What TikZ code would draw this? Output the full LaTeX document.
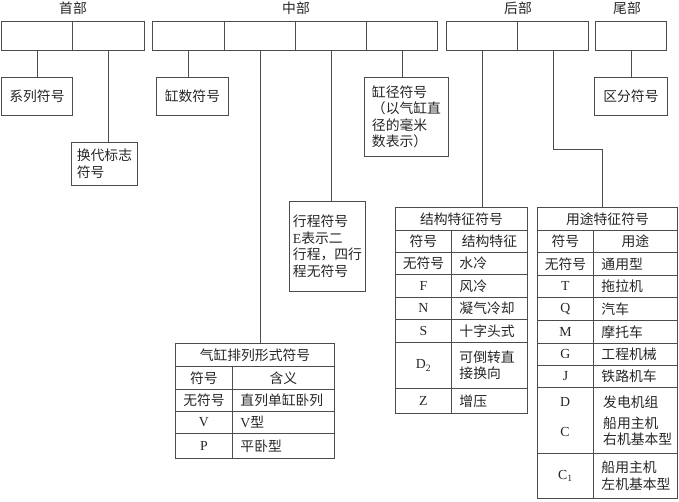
\documentclass[tikz,border=0pt]{standalone}
\usepackage{fontspec}
\setmainfont{Noto Sans CJK SC}
\newfontfamily\lat{Liberation Serif}
\begin{document}
\begin{tikzpicture}
[x=1pt,y=-1pt,%
  every node/.style={inner sep=0pt,text=black!85},%
  cell/.style={draw=black!70,line width=0.9pt,anchor=north west},%
  bar/.style={cell,minimum width=#1,minimum height=29pt},%
  rcell/.style={cell,inner xsep=8pt,text width=#1,align=left},%
  con/.style={draw=black!70,line width=0.9pt}]
\fontsize{13.8}{16.5}\selectfont
\useasboundingbox (0,0) rectangle (679,501);
% titles
\node (shou) at (73,8) {首部};
\node (zhong) at (296,8) {中部};
\node (hou) at (518,8) {后部};
\node (wei) at (627,8) {尾部};
% top bars
\node[bar=71pt] (s1) at (1,21) {};
\node[bar=72pt] (s2) at (72,21) {};
\node[bar=72pt] (m1) at (152,21) {};
\node[bar=71pt] (m2) at (224,21) {};
\node[bar=71pt] (m3) at (295,21) {};
\node[bar=71pt] (m4) at (366,21) {};
\node[bar=71pt] (h1) at (446,21) {};
\node[bar=71pt] (h2) at (517,21) {};
\node[bar=71pt] (w1) at (595,21) {};
% boxes
\node[cell,minimum width=71pt,minimum height=38pt] (xilie) at (1,77) {系列符号};
\node[cell,minimum width=66pt,minimum height=43pt,align=left] (huandai) at (71,142) {换代标志\\符号};
\node[cell,minimum width=72pt,minimum height=38pt] (gangshu) at (156,77) {缸数符号};
\node[cell,minimum width=84pt,minimum height=79pt,align=left] (gangjing) at (364,77)
  {缸径符号\\（以气缸直\\径的毫米\\数表示）};
\node[cell,minimum width=76pt,minimum height=90pt,align=left] (xingcheng) at (289,201)
  {行程符号\\{\lat E}表示二\\行程，四行\\程无符号};
\node[cell,minimum width=73pt,minimum height=38pt] (qufen) at (594,77) {区分符号};
% table: 结构特征
\node[cell,minimum width=132pt,minimum height=23pt] (jg-t) at (395,207) {结构特征符号};
\node[cell,minimum width=56pt,minimum height=22pt] (jg-a0) at (395,230) {符号};
\node[cell,minimum width=76pt,minimum height=22pt] (jg-b0) at (451,230) {结构特征};
\foreach \y/\h/\a/\b [count=\i] in {252/22/无符号/水冷, 274/23/{\lat F}/风冷,
    297/22/{\lat N}/凝气冷却, 319/23/{\lat S}/十字头式,
    342/46/{\lat D\textsubscript{2}}/可倒转直\\接换向, 388/25/{\lat Z}/增压}
{
  \node[cell,minimum width=56pt,minimum height=\h] (jg-a\i) at (395,\y) {\a};
  \node[rcell=60pt,minimum height=\h] (jg-b\i) at (451,\y) {\b};
}
% table: 用途特征
\node[cell,minimum width=140pt,minimum height=23pt] (yt-t) at (537,207) {用途特征符号};
\node[cell,minimum width=56pt,minimum height=22pt] (yt-a0) at (537,230) {符号};
\node[cell,minimum width=84pt,minimum height=22pt] (yt-b0) at (593,230) {用途};
\foreach \y/\h/\a/\b [count=\i] in {252/23/无符号/通用型, 275/22/{\lat T}/拖拉机,
    297/23/{\lat Q}/汽车, 320/23/{\lat M}/摩托车, 343/22/{\lat G}/工程机械,
    365/22/{\lat J}/铁路机车, 387/66//, 453/45/{\lat C\textsubscript{1}}/船用主机\\左机基本型}
{
  \node[cell,minimum width=56pt,minimum height=\h] (yt-a\i) at (537,\y) {\a};
  \node[rcell=68pt,minimum height=\h] (yt-b\i) at (593,\y) {\b};
}
\node (yt-d) at (565,402) {\lat D};
\node (yt-c) at (565,432) {\lat C};
\node[anchor=west] (yt-fd) at (603,402) {发电机组};
\node[anchor=west,align=left] (yt-cb) at (603,431) {船用主机\\右机基本型};
% table: 气缸排列
\node[cell,minimum width=159pt,minimum height=23pt] (pl-t) at (175,343) {气缸排列形式符号};
\node[cell,minimum width=57pt,minimum height=23pt] (pl-a0) at (175,366) {符号};
\node[cell,minimum width=102pt,minimum height=23pt] (pl-b0) at (232,366) {含义};
\foreach \y/\h/\a/\b [count=\i] in {389/22/无符号/直列单缸卧列,
    411/22/{\lat V}/{\lat V}型, 433/25/{\lat P}/平卧型}
{
  \node[cell,minimum width=57pt,minimum height=\h] (pl-a\i) at (175,\y) {\a};
  \node[rcell=86pt,minimum height=\h] (pl-b\i) at (232,\y) {\b};
}
% connectors
\draw[con] (s1.south) -- (s1.south |- xilie.north);
\draw[con] (s2.south) -- (s2.south |- huandai.north);
\draw[con] (m1.south) -- (m1.south |- gangshu.north);
\draw[con] (m2.south) -- (m2.south |- pl-t.north);
\draw[con] (m3.south) -- (m3.south |- xingcheng.north);
\draw[con] (m4.south) -- (m4.south |- gangjing.north);
\draw[con] (h1.south) -- (h1.south |- jg-t.north);
\draw[con] (h2.south) -- ++(0,99) -| ([xshift=-5pt]yt-t.north);
\draw[con] (w1.south) -- (w1.south |- qufen.north);
\end{tikzpicture}
\end{document}
